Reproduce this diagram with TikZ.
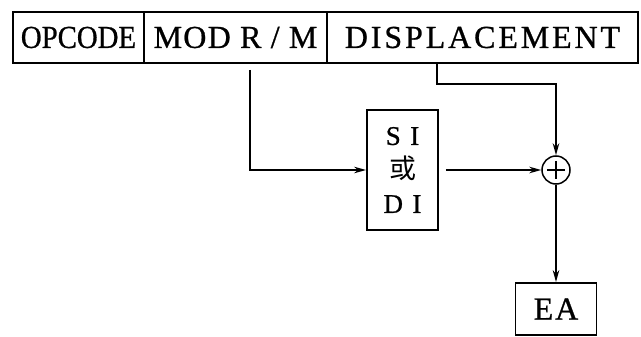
\documentclass[tikz,border=0pt]{standalone}
\usepackage{fontspec}
\setmainfont{Liberation Serif}
\newfontfamily\darkserif[FakeBold=0.8]{Liberation Serif}
\newfontfamily\cjk{Noto Sans CJK SC}
\usetikzlibrary{arrows.meta,positioning}

\begin{document}
\begin{tikzpicture}[x=1pt, y=-1pt,
field/.style={rectangle, draw, line width=1.8pt, minimum height=51pt, inner sep=0pt, font=\fontsize{32}{36}\darkserif},
reg/.style={rectangle, draw, line width=1.8pt, minimum width=71pt, minimum height=120pt, align=center, font=\fontsize{27}{34}\darkserif},
adder/.style={circle, draw, line width=1.5pt, minimum size=28pt, inner sep=0pt,
  path picture={\draw[line width=1.3pt] ([yshift=-5pt]path picture bounding box.north) -- ([yshift=5pt]path picture bounding box.south);
                \draw[line width=1.3pt] ([xshift=5pt]path picture bounding box.west) -- ([xshift=-5pt]path picture bounding box.east);}},
flow/.style={-{Stealth[length=12pt, width=6.5pt]}, line width=1.8pt}
]
\useasboundingbox (0,0) rectangle (641,337);
\node[field, minimum width=131pt] (opcode) at (78.5,37.5) {\scalebox{0.9}[1]{OPCODE}};
\node[field, minimum width=183pt] (modrm) at (235.5,37.5) {\addfontfeature{LetterSpace=4}MOD R / M};
\node[field, minimum width=311pt] (disp) at (482.5,37.5) {\addfontfeature{LetterSpace=9}DISPLACEMENT};
\node[reg] (si) at (402.5,170) {\addfontfeature{LetterSpace=10}S I\\{\cjk 或}\\\addfontfeature{LetterSpace=10}D I};
\node[adder] (sum) at (556,170) {};
\node[field, minimum width=81pt, minimum height=52pt] (ea) at (556,309) {\addfontfeature{LetterSpace=6}EA};
\draw[flow] ([xshift=14.5pt, yshift=-6pt]modrm.south) |- (si.west);
\draw[flow] ([xshift=-45.5pt]disp.south) -- ++(0,20) -| (sum.north);
\draw[flow] ([xshift=7pt]si.east) -- (sum.west);
\draw[flow] (sum.south) -- (ea.north);
\end{tikzpicture}
\end{document}
